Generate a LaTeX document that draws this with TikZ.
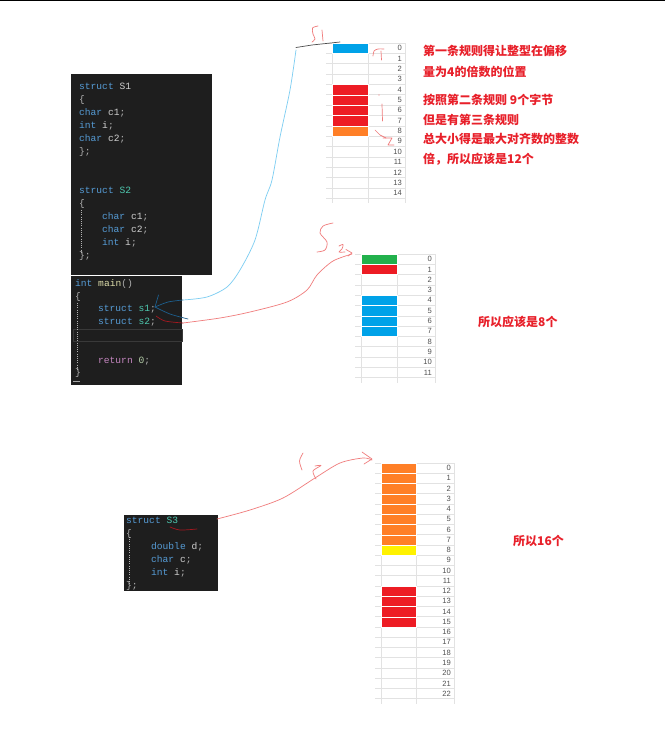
\documentclass[tikz,border=0pt]{standalone}
\usepackage{fontspec}
\setmainfont{Liberation Sans}
\setmonofont{Liberation Mono}
\newfontfamily\cjk{Noto Sans CJK SC}
\usetikzlibrary{calc}
\definecolor{codebg}{HTML}{1E1E1E}
\definecolor{ckwc}{HTML}{569CD6}
\definecolor{ctyc}{HTML}{4EC9B0}
\definecolor{cidc}{HTML}{D0D0D0}
\definecolor{cpuc}{HTML}{B0B0B0}
\definecolor{cfnc}{HTML}{DCDCAA}
\definecolor{crec}{HTML}{C586C0}
\definecolor{cnuc}{HTML}{B5CEA8}
\definecolor{cellblue}{HTML}{00A2E8}
\definecolor{cellred}{HTML}{ED1C24}
\definecolor{cellorange}{HTML}{FF7F27}
\definecolor{cellgreen}{HTML}{22B14C}
\definecolor{cellyellow}{HTML}{FFF200}
\definecolor{gridc}{HTML}{E2E2E2}
\definecolor{numc}{HTML}{505050}
\definecolor{notered}{HTML}{E8202A}
\definecolor{handblue}{HTML}{7CCDF2}
\definecolor{handdblue}{HTML}{1D5E8C}
\definecolor{handred}{HTML}{F07C7C}
\definecolor{handdred}{HTML}{A3181F}
\newcommand\ckw[1]{\textcolor{ckwc}{#1}}
\newcommand\cty[1]{\textcolor{ctyc}{#1}}
\newcommand\cid[1]{\textcolor{cidc}{#1}}
\newcommand\cpu[1]{\textcolor{cpuc}{#1}}
\newcommand\cfn[1]{\textcolor{cfnc}{#1}}
\newcommand\cre[1]{\textcolor{crec}{#1}}
\newcommand\cnu[1]{\textcolor{cnuc}{#1}}
\tikzset{
  codebox/.style={fill=codebg, draw=none, inner sep=0pt, anchor=north west},
  codeline/.style={anchor=base west, inner sep=0pt, font=\ttfamily\fontsize{9.6}{11}\selectfont},
  guide/.style={draw=gray!60, dash pattern=on 1pt off 1.2pt, line width=0.5pt},
  gridline/.style={draw=gridc, line width=0.6pt},
  numlabel/.style={anchor=east, inner sep=0pt, text=numc, font=\fontsize{7.6}{8}\selectfont},
  note/.style={anchor=west, inner sep=0pt, text=notered, font=\cjk\bfseries\fontsize{12}{14}\selectfont},
  hand/.style={line width=0.7pt, line cap=round, line join=round},
}
% #1 prefix, #2 x left, #3 x right, #4 number right x, #5 top, #6 pitch, #7 last index
\newcommand\memtable[7]{%
  \foreach \r in {0,...,#7}{%
    \pgfmathsetmacro\yt{#5+\r*#6}%
    \pgfmathsetmacro\yc{#5+(\r+0.5)*#6}%
    \draw[gridline] (#2-6,\yt) -- (#4+4,\yt);
    \node[numlabel] (#1\r) at (#4,\yc) {\r};
  }%
  \pgfmathsetmacro\yb{#5+(#7+1)*#6}%
  \draw[gridline] (#2-6,\yb) -- (#4+4,\yb);
  \draw[gridline] (#2,#5) -- (#2,\yb+5);
  \draw[gridline] (#3,#5) -- (#3,\yb+5);
  \draw[gridline] (#4+3,#5) -- (#4+3,\yb+5);
}
% #1 x left, #2 x right, #3 top, #4 pitch, #5 row, #6 colour
\newcommand\memcell[6]{%
  \fill[#6, draw=white, line width=0.4pt] (#1,{#3+#5*#4}) rectangle (#2,{#3+(#5+1)*#4});
}
\begin{document}
\begin{tikzpicture}[x=1pt,y=-1pt]
\useasboundingbox (0,0) rectangle (665,750);
\fill[white] (0,0) rectangle (665,750);
\draw[black, line width=1.2pt] (0,0.6) -- (665,0.6);

% ---------- code block 1 ----------
\node[codebox, minimum width=141pt, minimum height=201pt] (B1) at (71,74) {};
\node[codebox, minimum width=111pt, minimum height=109pt] (B2) at (71,276) {};
\node[codeline] (a1) at (79,89.5) {\ckw{struct} \cid{S1}};
\node[codeline] (a2) at (79,102.5) {\cpu{\{}};
\node[codeline] (a3) at (79,115.5) {\ckw{char} \cid{c1}\cpu{;}};
\node[codeline] (a4) at (79,128.5) {\ckw{int} \cid{i}\cpu{;}};
\node[codeline] (a5) at (79,141.5) {\ckw{char} \cid{c2}\cpu{;}};
\node[codeline] (a6) at (79,154.5) {\cpu{\};}};
\node[codeline] (b1) at (79,193.5) {\ckw{struct} \cty{S2}};
\node[codeline] (b2) at (79,206.5) {\cpu{\{}};
\node[codeline] (b3) at (102,219.5) {\ckw{char} \cid{c1}\cpu{;}};
\node[codeline] (b4) at (102,232.5) {\ckw{char} \cid{c2}\cpu{;}};
\node[codeline] (b5) at (102,245.5) {\ckw{int} \cid{i}\cpu{;}};
\node[codeline] (b6) at (79,258.5) {\cpu{\};}};
\draw[guide] (81,210) -- (81,254);

% ---------- main ----------
\node[codeline] (m1) at (75,286.5) {\ckw{int} \cfn{main}\cpu{()}};
\node[codeline] (m2) at (75,299.5) {\cpu{\{}};
\node[codeline] (m3) at (98,311.5) {\ckw{struct} \cty{s1}\cpu{;}};
\node[codeline] (m4) at (98,324.5) {\ckw{struct} \cty{s2}\cpu{;}};
\draw[draw=gray!45!black, line width=0.8pt] (73.5,329) rectangle (182,341);
\node[codeline] (m5) at (98,363.5) {\cre{return} \cnu{0}\cpu{;}};
\node[codeline] (m6) at (75,375.5) {\cpu{\}}};
\draw[guide] (77,303) -- (77,370);
\draw[gray!70, line width=1pt] (73,381.5) -- (80,381.5);

% ---------- code block 3 ----------
\node[codebox, minimum width=94pt, minimum height=76pt] (B3) at (124,515) {};
\node[codeline] (c1) at (126,523.5) {\ckw{struct} \cty{S3}};
\node[codeline] (c2) at (126,536.5) {\cpu{\{}};
\node[codeline] (c3) at (151,549.5) {\ckw{double} \cid{d}\cpu{;}};
\node[codeline] (c4) at (151,562.5) {\ckw{char} \cid{c}\cpu{;}};
\node[codeline] (c5) at (151,575.5) {\ckw{int} \cid{i}\cpu{;}};
\node[codeline] (c6) at (126,588.5) {\cpu{\};}};
\draw[guide] (129,537) -- (129,584);

% ---------- table 1 ----------
\memtable{A}{332}{368}{402}{43}{10.35}{14}
\memcell{332}{368}{43}{10.35}{0}{cellblue}
\foreach \r in {4,...,7}{\memcell{332}{368}{43}{10.35}{\r}{cellred}}
\memcell{332}{368}{43}{10.35}{8}{cellorange}

% ---------- table 2 ----------
\memtable{B}{361}{397}{432}{254}{10.3}{11}
\memcell{361}{397}{254}{10.3}{0}{cellgreen}
\memcell{361}{397}{254}{10.3}{1}{cellred}
\foreach \r in {4,...,7}{\memcell{361}{397}{254}{10.3}{\r}{cellblue}}

% ---------- table 3 ----------
\memtable{C}{381}{416}{451}{463}{10.25}{22}
\foreach \r in {0,...,7}{\memcell{381}{416}{463}{10.25}{\r}{cellorange}}
\memcell{381}{416}{463}{10.25}{8}{cellyellow}
\foreach \r in {12,...,15}{\memcell{381}{416}{463}{10.25}{\r}{cellred}}

% ---------- notes ----------
\node[note] (n1) at (423,51) {第一条规则得让整型在偏移};
\node[note] (n2) at (423,72) {量为4的倍数的位置};
\node[note] (n3) at (423,100) {按照第二条规则 9个字节};
\node[note] (n4) at (423,120) {但是有第三条规则};
\node[note] (n5) at (423,139) {总大小得是最大对齐数的整数};
\node[note] (n6) at (423,159) {倍，所以应该是12个};
\node[note] (n7) at (478,322) {所以应该是8个};
\node[note] (n8) at (513,541) {所以16个};

% ---------- hand-drawn marks: s1 ----------
\coordinate (s1tip) at (155,307);
\coordinate (s1top) at (296,50);
\draw[hand, handdblue] plot[smooth] coordinates {(s1tip) (168,302) (183,300)};
\draw[hand, handdblue] plot[smooth] coordinates {(s1tip) (170,314) (188,319)};
\draw[hand, handdblue] (s1tip) -- (158.5,295);
\draw[hand, handblue] plot[smooth] coordinates {(183,300) (207,297) (227,287) (240,270) (255,240) (265,200) (272,180) (280,137) (290,90) (s1top)};
\draw[hand, gray!60!black] (296,47.5) -- (312,45) -- (340,42);
\draw[hand, handred] plot[smooth] coordinates {(318,26) (312.5,28) (313,34) (315,39) (312,42)};
\draw[hand, handred] (322,30) -- (323,41);
\draw[hand, handred] plot[smooth] coordinates {(373,56) (374,51) (378,49) (384,49)};
\draw[hand, handred] (381,51) -- (381.5,60);
\draw[hand, handred] (382,104) -- (382.5,121);
\fill[handred] (379,95) circle (0.6);
\draw[hand, handred] (375,130) -- (380,135) -- (386,138);
\draw[hand, handred] (383,138) -- (392,138) -- (388,145) -- (394,145);

% ---------- hand-drawn marks: s2 ----------
\coordinate (s2tip) at (156,316);
\coordinate (s2end) at (352,254);
\draw[hand, handdred] plot[smooth] coordinates {(s2tip) (165,321) (183,323)};
\draw[hand, handred] plot[smooth] coordinates {(183,323) (220,318) (250,312) (287,302) (307,290) (317,275) (333,261) (s2end)};
\draw[hand, handred] plot[smooth] coordinates {(333,223) (323,226) (320,233) (327,242) (325,250) (317,252)};
\draw[hand, handred] plot[smooth] coordinates {(339,246) (343,244.5) (342,249) (339,252) (345,252)};
\draw[hand, handred] (346,249.5) -- (352,253) -- (348,256);

% ---------- hand-drawn marks: S3 ----------
\coordinate (s3tip) at (217,519);
\coordinate (s3end) at (372,460);
\draw[hand, handred] plot[smooth] coordinates {(s3tip) (250,510) (283,498) (315,478) (340,463) (363,458) (s3end)};
\draw[hand, handred] (362,452) -- (372,459) -- (364,464);
\draw[hand, handred] plot[smooth] coordinates {(303,453) (299.5,461) (302,470)};
\draw[hand, handred] plot[smooth] coordinates {(315,466) (321,465.5) (313,471) (316,479)};
\draw[hand, handdred] plot[smooth] coordinates {(170,527) (180,530) (197,529)};
\end{tikzpicture}
\end{document}
